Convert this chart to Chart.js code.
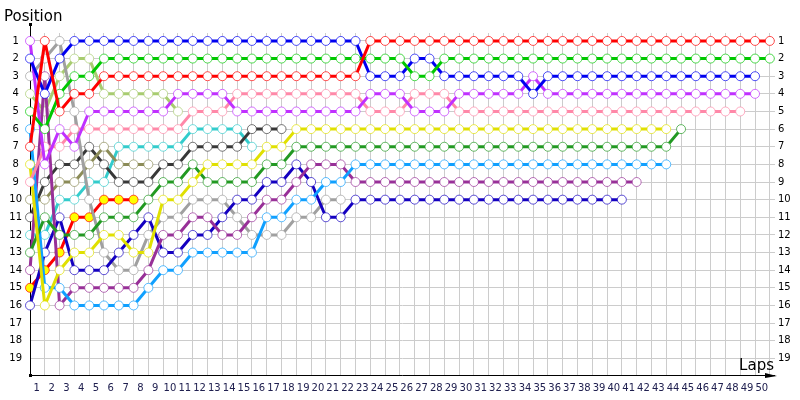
<!DOCTYPE html>
<html>
<head>
<meta charset="utf-8">
<title>Lap chart</title>
<script src="https://cdn.jsdelivr.net/npm/chart.js@4"></script>
<style>
  html, body { margin: 0; padding: 0; background: #fff; }
</style>
</head>
<body>
<canvas id="lapChart" width="800" height="400"></canvas>
<script>
// laps on the x axis, positions on the y axis
const laps = [0,1,2,3,4,5,6,7,8,9,10,11,12,13,14,15,16,17,18,19,20,21,22,23,24,25,
  26,27,28,29,30,31,32,33,34,35,36,37,38,39,40,41,42,43,44,45,46,47,48,49,50];
const positions = [1,2,3,4,5,6,7,8,9,10,11,12,13,14,15,16,17,18,19];

// position of each car at each lap (index = lap)
const red = [7,1,5,4,4,3,3,3,3,3,3,3,3,3,3,3,3,3,3,3,3,3,3,
  1,1,1,1,1,1,1,1,1,1,1,1,1,1,1,1,1,1,1,1,1,1,1,1,1,1,1,1];
const green = [5,6,4,3,3,2,2,2,2,2,2,2,2,2,2,2,2,2,2,2,2,2,2,2,2,2,3,3,
  2,2,2,2,2,2,2,2,2,2,2,2,2,2,2,2,2,2,2,2,2,2,2];
const blue = [2,4,2,1,1,1,1,1,1,1,1,1,1,1,1,1,1,1,1,1,1,1,1,3,3,3,2,2,
  3,3,3,3,3,3,4,3,3,3,3,3,3,3,3,3,3,3,3,3,3,3];
const violet = [1,8,6,7,5,5,5,5,5,5,4,4,4,4,5,5,5,5,5,5,5,5,5,4,4,4,5,5,5,
  4,4,4,4,4,3,4,4,4,4,4,4,4,4,4,4,4,4,4,4,4];
const pink = [9,7,7,6,6,6,6,6,6,6,6,5,5,5,4,4,4,4,4,4,4,4,4,5,5,5,4,4,4,
  5,5,5,5,5,5,5,5,5,5,5,5,5,5,5,5,5,5,5,5];
const yellow = [8,16,14,13,13,12,12,13,13,10,10,9,8,8,8,8,7,7,
  6,6,6,6,6,6,6,6,6,6,6,6,6,6,6,6,6,6,6,6,6,6,6,6,6,6];
const darkGreen = [13,11,12,12,12,11,11,11,10,9,9,8,9,9,9,9,8,8,
  7,7,7,7,7,7,7,7,7,7,7,7,7,7,7,7,7,7,7,7,7,7,7,7,7,7,6];
const sky = [6,15,15,16,16,16,16,16,15,14,14,13,13,13,13,13,11,11,10,10,9,9,
  8,8,8,8,8,8,8,8,8,8,8,8,8,8,8,8,8,8,8,8,8,8];
const purple = [14,3,16,15,15,15,15,15,14,12,12,11,11,12,12,11,10,10,9,8,8,8,
  9,9,9,9,9,9,9,9,9,9,9,9,9,9,9,9,9,9,9,9];
const darkBlue = [16,13,11,14,14,14,13,12,11,13,13,12,12,11,10,10,9,9,8,9,11,11,
  10,10,10,10,10,10,10,10,10,10,10,10,10,10,10,10,10,10,10];
const gray = [3,2,1,5,10,13,14,14,12,11,11,10,10,10,11,12,12,12,11,11,10,10];
const lightGreen = [4,5,3,2,2,4,4,4,4,4,5];
const olive = [10,10,9,9,8,7,8,8,8];
const darkGray = [11,9,8,8,7,8,9,9,9,8,8,7,7,7,7,6,6,6];
const cyan = [12,12,10,10,9,9,7,7,7,7,7,6,6,6,6,7];
const redYellow = [15,14,13,11,11,10,10,10];

function car(data, color, fill) {
  return {
    data: data,
    clip: false,
    borderColor: color,
    borderWidth: 3,
    borderJoinStyle: 'round',
    tension: 0,
    pointRadius: 4.5,
    pointHoverRadius: 4.5,
    pointBorderWidth: 1,
    pointBorderColor: color + 'b0',
    pointBackgroundColor: fill || '#ffffff'
  };
}

const tickFont = { family: 'DejaVu Sans', size: 10 };

// axis lines, arrows and the two titles
const decor = {
  id: 'decor',
  beforeDatasetsDraw(chart) {
    const { ctx, chartArea: a } = chart;
    ctx.save();
    ctx.strokeStyle = '#000';
    ctx.fillStyle = '#000';
    ctx.lineWidth = 1;
    ctx.beginPath();
    ctx.moveTo(a.left + 0.5, 25);
    ctx.lineTo(a.left + 0.5, a.bottom - 0.5);
    ctx.lineTo(a.right, a.bottom - 0.5);
    ctx.stroke();
    ctx.beginPath();
    ctx.moveTo(a.right + 2, a.bottom);
    ctx.lineTo(a.right - 10, a.bottom - 3);
    ctx.lineTo(a.right - 10, a.bottom + 2);
    ctx.closePath();
    ctx.fill();
    ctx.fillRect(a.left - 1, 23, 3, 3);
    ctx.fillRect(a.left - 1, a.bottom - 2, 3, 3);
    ctx.font = '15px "DejaVu Sans"';
    ctx.textBaseline = 'alphabetic';
    ctx.textAlign = 'left';
    ctx.fillText('Position', 4, 21);
    ctx.textAlign = 'right';
    ctx.fillText('Laps', 774, 370);
    ctx.restore();
  }
};

new Chart(document.getElementById('lapChart'), {
  type: 'line',
  data: {
    labels: laps,
    datasets: [
      car(red, '#ff0000'),
      car(green, '#00c800'),
      car(blue, '#0000f0'),
      car(violet, '#c030ff'),
      car(pink, '#ff88a8'),
      car(yellow, '#e0e000'),
      car(darkGreen, '#229922'),
      car(sky, '#10a0ff'),
      car(purple, '#983098'),
      car(darkBlue, '#1400c0'),
      car(gray, '#a0a0a0'),
      car(lightGreen, '#a8cc70'),
      car(olive, '#8c8c58'),
      car(darkGray, '#383838'),
      car(cyan, '#33cccc'),
      car(redYellow, '#ff0000', '#ffff00')
    ]
  },
  options: {
    responsive: false,
    animation: false,
    devicePixelRatio: 1,
    layout: { padding: { top: 33, left: 0, right: 0, bottom: 0 } },
    plugins: { legend: { display: false }, tooltip: { enabled: false } },
    scales: {
      x: {
        type: 'linear',
        min: 0,
        max: 50.35,
        afterBuildTicks: s => { s.ticks = laps.map(v => ({ value: v })); },
        afterFit: s => { s.height = 24; },
        grid: { color: '#cccccc', drawTicks: false },
        border: { display: false },
        ticks: {
          autoSkip: false, maxRotation: 0, padding: 6, labelOffset: -8,
          color: '#202050', font: tickFont,
          callback: v => (v === 0 ? '' : v)
        }
      },
      y: {
        type: 'linear',
        position: 'left',
        min: 0.55,
        max: 20,
        reverse: true,
        afterBuildTicks: s => { s.ticks = positions.map(v => ({ value: v })); },
        afterFit: s => { s.width = 30; },
        grid: { color: '#cccccc', drawTicks: false },
        border: { display: false },
        ticks: { autoSkip: false, padding: 8, crossAlign: 'center', color: '#000', font: tickFont }
      },
      y2: {
        type: 'linear',
        position: 'right',
        min: 0.55,
        max: 20,
        reverse: true,
        afterBuildTicks: s => { s.ticks = positions.map(v => ({ value: v })); },
        afterFit: s => { s.width = 25; },
        grid: { drawOnChartArea: false, drawTicks: false },
        border: { display: false },
        ticks: { autoSkip: false, padding: 3, color: '#000', font: tickFont }
      }
    }
  },
  plugins: [decor]
});
</script>
</body>
</html>
